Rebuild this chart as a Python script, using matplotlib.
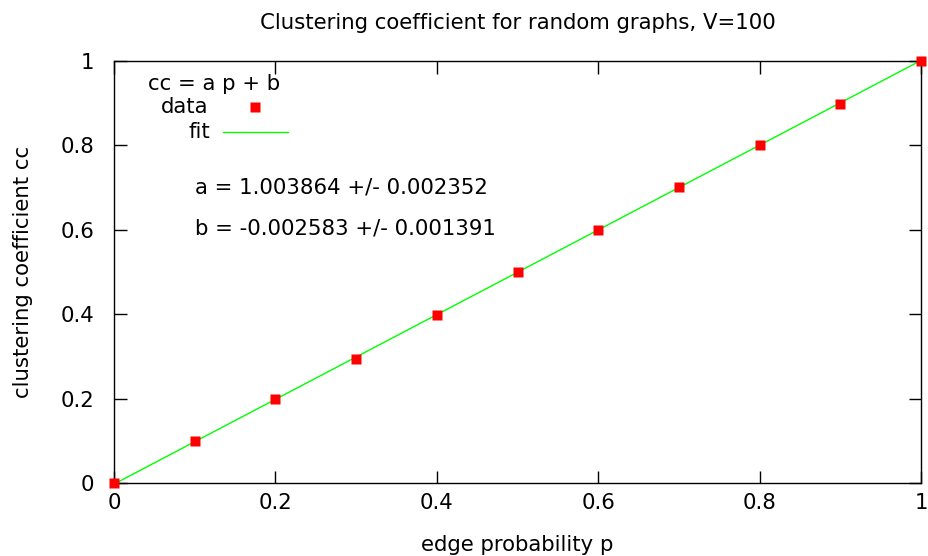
import matplotlib
matplotlib.use("Agg")
import matplotlib.pyplot as plt
import numpy as np

p = [0.0, 0.1, 0.2, 0.3, 0.4, 0.5, 0.6, 0.7, 0.8, 0.9, 1.0]
cc = [0.0, 0.0985, 0.198, 0.295, 0.397, 0.501, 0.599, 0.702, 0.802, 0.899, 1.0]
a_fit = 1.003864
b_fit = -0.002583
xticks = [0, 0.2, 0.4, 0.6, 0.8, 1]
xticklabels = ["0", "0.2", "0.4", "0.6", "0.8", "1"]
yticks = [0, 0.2, 0.4, 0.6, 0.8, 1]
yticklabels = ["0", "0.2", "0.4", "0.6", "0.8", "1"]

plt.rcParams['font.family'] = ['DejaVu Sans']
fs = 15.3

fig = plt.figure(figsize=(9.29, 5.56), dpi=100)
ax = fig.add_axes([114/929, 73/556, 807/929, 422/556])

xf = np.array([0.0, 1.0])
ax.plot(xf, a_fit * xf + b_fit, color='#00ff00', lw=1.0, zorder=2)
ax.plot(p, cc, 's', color='#ff0000', ms=6.5, mec='none', zorder=3, clip_on=False)

ax.set_xlim(0, 1)
ax.set_ylim(0, 1)
ax.set_xticks(xticks)
ax.set_xticklabels(xticklabels)
ax.set_yticks(yticks)
ax.set_yticklabels(yticklabels)
ax.tick_params(direction='in', length=9, width=1, top=True, right=True,
               labelsize=fs, pad=7)
ax.tick_params(axis='y', pad=14)
for s in ax.spines.values():
    s.set_linewidth(1.0)

ax.set_title("Clustering coefficient for random graphs, V=100", fontsize=fs, pad=23)
ax.set_xlabel("edge probability p", fontsize=fs, labelpad=16)
ax.set_ylabel("clustering coefficient cc", fontsize=fs, labelpad=20)

tr = ax.transAxes
ax.text(0.042, 0.9455, "cc = a p + b", transform=tr, fontsize=fs, ha='left', va='center')
ax.text(0.1165, 0.891, "data", transform=tr, fontsize=fs, ha='right', va='center')
ax.plot([0.1747], [0.891], 's', color='#ff0000', ms=6.5, mec='none', transform=tr)
ax.text(0.119, 0.832, "fit", transform=tr, fontsize=fs, ha='right', va='center')
ax.plot([0.135, 0.2156], [0.832, 0.832], color='#00ff00', lw=1.0, transform=tr)
ax.text(0.1004, 0.701, "a = 1.003864 +/- 0.002352", transform=tr, fontsize=fs, ha='left', va='center')
ax.text(0.1004, 0.602, "b = -0.002583 +/- 0.001391", transform=tr, fontsize=fs, ha='left', va='center')

fig.savefig("out.png", dpi=100)
